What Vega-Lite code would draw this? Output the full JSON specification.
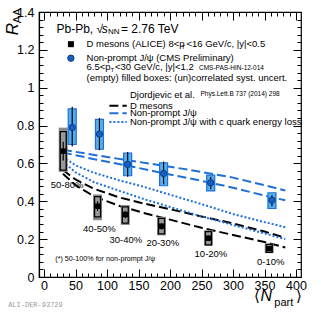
{
  "$schema": "https://vega.github.io/schema/vega-lite/v6.json",
  "width": 262,
  "height": 265,
  "autosize": {"type": "none"},
  "padding": {"left": 39, "top": 12, "right": 20, "bottom": 35},
  "background": "white",
  "config": {
    "view": {"stroke": "black", "strokeWidth": 1.2},
    "axis": {"grid": false, "domainColor": "black", "domainWidth": 1.2, "tickColor": "black", "tickWidth": 1, "labelFont": "Liberation Sans", "labelFontSize": 12.5, "labelColor": "black", "labelFlush": false, "labelOverlap": false, "title": null, "tickCount": 100},
    "text": {"font": "Liberation Sans", "color": "black"}
  },
  "datasets": {
    "dmesTh": [
      {"s": "upper", "N": 30, "v": 0.565}, {"s": "upper", "N": 50, "v": 0.515}, {"s": "upper", "N": 80, "v": 0.465}, {"s": "upper", "N": 120, "v": 0.42}, {"s": "upper", "N": 160, "v": 0.387}, {"s": "upper", "N": 200, "v": 0.358}, {"s": "upper", "N": 250, "v": 0.32}, {"s": "upper", "N": 300, "v": 0.283}, {"s": "upper", "N": 350, "v": 0.24}, {"s": "upper", "N": 383, "v": 0.207},
      {"s": "lower", "N": 30, "v": 0.545}, {"s": "lower", "N": 50, "v": 0.485}, {"s": "lower", "N": 80, "v": 0.425}, {"s": "lower", "N": 120, "v": 0.375}, {"s": "lower", "N": 160, "v": 0.337}, {"s": "lower", "N": 200, "v": 0.303}, {"s": "lower", "N": 250, "v": 0.26}, {"s": "lower", "N": 300, "v": 0.222}, {"s": "lower", "N": 350, "v": 0.185}, {"s": "lower", "N": 383, "v": 0.156},
      {"s": "leg", "N": 103.8, "v": 0.905}, {"s": "leg", "N": 131.3, "v": 0.905}
    ],
    "jpsiTh": [
      {"s": "upper", "N": 30, "v": 0.672}, {"s": "upper", "N": 80, "v": 0.645}, {"s": "upper", "N": 130, "v": 0.618}, {"s": "upper", "N": 190, "v": 0.588}, {"s": "upper", "N": 250, "v": 0.555}, {"s": "upper", "N": 300, "v": 0.525}, {"s": "upper", "N": 350, "v": 0.485}, {"s": "upper", "N": 383, "v": 0.457},
      {"s": "lower", "N": 30, "v": 0.658}, {"s": "lower", "N": 80, "v": 0.622}, {"s": "lower", "N": 130, "v": 0.59}, {"s": "lower", "N": 190, "v": 0.548}, {"s": "lower", "N": 250, "v": 0.508}, {"s": "lower", "N": 300, "v": 0.472}, {"s": "lower", "N": 350, "v": 0.43}, {"s": "lower", "N": 383, "v": 0.405},
      {"s": "leg", "N": 103.8, "v": 0.865}, {"s": "leg", "N": 131.3, "v": 0.865}
    ],
    "elossTh": [
      {"s": "upper", "N": 30, "v": 0.635}, {"s": "upper", "N": 50, "v": 0.59}, {"s": "upper", "N": 80, "v": 0.55}, {"s": "upper", "N": 120, "v": 0.51}, {"s": "upper", "N": 160, "v": 0.475}, {"s": "upper", "N": 200, "v": 0.435}, {"s": "upper", "N": 250, "v": 0.385}, {"s": "upper", "N": 300, "v": 0.333}, {"s": "upper", "N": 350, "v": 0.29}, {"s": "upper", "N": 383, "v": 0.263},
      {"s": "lower", "N": 30, "v": 0.61}, {"s": "lower", "N": 50, "v": 0.553}, {"s": "lower", "N": 80, "v": 0.5}, {"s": "lower", "N": 120, "v": 0.455}, {"s": "lower", "N": 160, "v": 0.41}, {"s": "lower", "N": 200, "v": 0.37}, {"s": "lower", "N": 250, "v": 0.32}, {"s": "lower", "N": 300, "v": 0.275}, {"s": "lower", "N": 350, "v": 0.23}, {"s": "lower", "N": 383, "v": 0.2},
      {"s": "leg", "N": 103.8, "v": 0.819}, {"s": "leg", "N": 131.3, "v": 0.819}
    ],
    "dmes": [
      {"N": 30.5, "v": 0.665, "s0": 0.615, "s1": 0.715, "u0": 0.565, "u1": 0.768, "c0": 0.555, "c1": 0.789},
      {"N": 85, "v": 0.374, "s0": 0.35, "s1": 0.4, "u0": 0.318, "u1": 0.425, "c0": 0.3, "c1": 0.436},
      {"N": 129, "v": 0.33, "s0": 0.31, "s1": 0.35, "u0": 0.285, "u1": 0.37, "c0": 0.275, "c1": 0.38},
      {"N": 186.5, "v": 0.268, "s0": 0.25, "s1": 0.285, "u0": 0.228, "u1": 0.31, "c0": 0.22, "c1": 0.318},
      {"N": 261, "v": 0.205, "s0": 0.19, "s1": 0.22, "u0": 0.17, "u1": 0.24, "c0": 0.165, "c1": 0.247},
      {"N": 357.5, "v": 0.15, "s0": 0.14, "s1": 0.16, "u0": 0.13, "u1": 0.172, "c0": 0.126, "c1": 0.177}
    ],
    "jpsi": [
      {"N": 44.8, "v": 0.79, "s0": 0.69, "s1": 0.9, "b0": 0.7, "b1": 0.888},
      {"N": 88, "v": 0.755, "s0": 0.67, "s1": 0.84, "b0": 0.675, "b1": 0.833},
      {"N": 132.8, "v": 0.595, "s0": 0.53, "s1": 0.66, "b0": 0.535, "b1": 0.655},
      {"N": 189.8, "v": 0.547, "s0": 0.49, "s1": 0.61, "b0": 0.482, "b1": 0.603},
      {"N": 264.6, "v": 0.498, "s0": 0.463, "s1": 0.53, "b0": 0.455, "b1": 0.538},
      {"N": 361.8, "v": 0.406, "s0": 0.374, "s1": 0.432, "b0": 0.362, "b1": 0.445}
    ],
    "legSq": [{"N": 42.7, "v": 1.23}],
    "legCi": [{"N": 42.7, "v": 1.156}],
    "title": [{"x": 19.8, "y": 1.311, "t": "Pb-Pb, √"}, {"x": 122.1, "y": 1.311, "t": "= 2.76 TeV"}],
    "titleIt": [{"x": 91.6, "y": 1.311, "t": "s"}],
    "titleSub": [{"x": 101.5, "y": 1.292, "t": "NN"}],
    "legTxt": [
      {"x": 67.6, "y": 1.23, "t": "D mesons (ALICE) 8<p"},
      {"x": 226, "y": 1.23, "t": "<16 GeV/c, |y|<0.5"},
      {"x": 67.6, "y": 1.156, "t": "Non-prompt J/ψ (CMS Preliminary)"},
      {"x": 67.6, "y": 1.108, "t": "6.5<p"},
      {"x": 112.5, "y": 1.108, "t": "<30 GeV/c, |y|<1.2"},
      {"x": 67.6, "y": 1.05, "t": "(empty) filled boxes: (un)correlated syst. uncert."},
      {"x": 136.4, "y": 0.962, "t": "Djordjevic et al."},
      {"x": 136.4, "y": 0.905, "t": "D mesons"},
      {"x": 136.4, "y": 0.865, "t": "Non-prompt J/ψ"},
      {"x": 136.4, "y": 0.819, "t": "Non-prompt J/ψ with c quark energy loss"}
    ],
    "legSub": [{"x": 218.3, "y": 1.213, "t": "T"}, {"x": 105.4, "y": 1.092, "t": "T"}],
    "refTxt": [{"x": 246, "y": 1.104, "t": "CMS-PAS-HIN-12-014"}, {"x": 248.4, "y": 0.965, "t": "Phys.Lett.B 737 (2014) 298"}],
    "cent": [
      {"x": 36.6, "y": 0.485, "t": "50-80%"},
      {"x": 88, "y": 0.256, "t": "40-50%"},
      {"x": 130, "y": 0.198, "t": "30-40%"},
      {"x": 188.5, "y": 0.177, "t": "20-30%"},
      {"x": 265, "y": 0.12, "t": "10-20%"},
      {"x": 360, "y": 0.08, "t": "0-10%"}
    ],
    "foot": [{"x": 17.9, "y": 0.097, "t": "(*) 50-100% for non-prompt J/ψ"}],
    "axR": [{"x": -48.9, "y": 1.31, "t": "R"}],
    "axAA": [{"x": -41.2, "y": 1.38, "t": "AA"}],
    "axBr": [{"x": 338.5, "y": -0.102, "t": "⟨"}, {"x": 404, "y": -0.102, "t": "⟩"}],
    "axN": [{"x": 343.5, "y": -0.102, "t": "N"}],
    "axPart": [{"x": 365.5, "y": -0.139, "t": "part"}],
    "ali": [{"x": -56.9, "y": -0.15, "t": "ALI-DER-93729"}]
  },
  "resolve": {"axis": {"x": "independent", "y": "independent"}},
  "layer": [
    {
      "layer": [
        {
          "data": {"name": "dmesTh"},
          "mark": {"type": "line", "color": "black", "strokeWidth": 2, "strokeDash": [9, 4]},
          "encoding": {
            "x": {"field": "N", "type": "quantitative", "scale": {"domain": [0, 400], "nice": false, "zero": false},
              "axis": {"title": null, "orient": "bottom", "values": [0, 50, 100, 150, 200, 250, 300, 350, 400], "tickCount": 100, "ticks": false, "labelPadding": 2, "labelOverlap": false, "labelFlush": false}},
            "y": {"field": "v", "type": "quantitative", "scale": {"domain": [0, 1.4], "nice": false, "zero": false},
              "axis": {"title": null, "orient": "left", "values": [0, 0.2, 0.4, 0.6, 0.8, 1, 1.2, 1.4], "tickCount": 100, "format": "~g", "ticks": false, "labelPadding": 5, "labelOverlap": false, "labelFlush": false}},
            "detail": {"field": "s"}
          }
        },
        {
          "data": {"name": "elossTh"},
          "mark": {"type": "line", "color": "#1f6fd6", "strokeWidth": 2, "strokeDash": [2, 2]},
          "encoding": {"x": {"field": "N", "type": "quantitative"}, "y": {"field": "v", "type": "quantitative"}, "detail": {"field": "s"}}
        },
        {
          "data": {"name": "jpsiTh"},
          "mark": {"type": "line", "color": "#1f6fd6", "strokeWidth": 2, "strokeDash": [9, 4]},
          "encoding": {"x": {"field": "N", "type": "quantitative"}, "y": {"field": "v", "type": "quantitative"}, "detail": {"field": "s"}}
        },
        {
          "data": {"name": "dmes"},
          "mark": {"type": "bar", "width": 9, "color": "#8a8a8a"},
          "encoding": {"x": {"field": "N", "type": "quantitative"}, "y": {"field": "c0", "type": "quantitative"}, "y2": {"field": "c1"}}
        },
        {
          "data": {"name": "dmes"},
          "mark": {"type": "bar", "width": 6, "fill": "#b0b0b0", "fillOpacity": 0.4, "stroke": "black", "strokeWidth": 1.3},
          "encoding": {"x": {"field": "N", "type": "quantitative"}, "y": {"field": "u0", "type": "quantitative"}, "y2": {"field": "u1"}}
        },
        {
          "data": {"name": "dmes"},
          "mark": {"type": "rule", "color": "black", "strokeWidth": 1.2},
          "encoding": {"x": {"field": "N", "type": "quantitative"}, "y": {"field": "s0", "type": "quantitative"}, "y2": {"field": "s1"}}
        },
        {
          "data": {"name": "dmes"},
          "mark": {"type": "square", "color": "black", "opacity": 1, "size": 30},
          "encoding": {"x": {"field": "N", "type": "quantitative"}, "y": {"field": "v", "type": "quantitative"}}
        },
        {
          "data": {"name": "jpsi"},
          "mark": {"type": "bar", "width": 8, "fill": "#52b0f0", "stroke": "#1f6fd6", "strokeWidth": 1.2},
          "encoding": {"x": {"field": "N", "type": "quantitative"}, "y": {"field": "b0", "type": "quantitative"}, "y2": {"field": "b1"}}
        },
        {
          "data": {"name": "jpsi"},
          "mark": {"type": "rule", "color": "black", "strokeWidth": 1.2},
          "encoding": {"x": {"field": "N", "type": "quantitative"}, "y": {"field": "s0", "type": "quantitative"}, "y2": {"field": "s1"}}
        },
        {
          "data": {"name": "jpsi"},
          "mark": {"type": "circle", "fill": "#1560c0", "stroke": "#0b3a85", "strokeWidth": 1, "opacity": 1, "size": 40},
          "encoding": {"x": {"field": "N", "type": "quantitative"}, "y": {"field": "v", "type": "quantitative"}}
        },
        {
          "data": {"name": "legSq"},
          "mark": {"type": "square", "color": "black", "opacity": 1, "size": 36},
          "encoding": {"x": {"field": "N", "type": "quantitative"}, "y": {"field": "v", "type": "quantitative"}}
        },
        {
          "data": {"name": "legCi"},
          "mark": {"type": "circle", "fill": "#1560c0", "stroke": "#0b3a85", "strokeWidth": 1, "opacity": 1, "size": 40},
          "encoding": {"x": {"field": "N", "type": "quantitative"}, "y": {"field": "v", "type": "quantitative"}}
        },
        {
          "data": {"name": "title"},
          "mark": {"type": "text", "fontSize": 12, "align": "left", "baseline": "middle"},
          "encoding": {"x": {"field": "x", "type": "quantitative"}, "y": {"field": "y", "type": "quantitative"}, "text": {"field": "t"}}
        },
        {
          "data": {"name": "titleIt"},
          "mark": {"type": "text", "fontSize": 12, "fontStyle": "italic", "align": "left", "baseline": "middle"},
          "encoding": {"x": {"field": "x", "type": "quantitative"}, "y": {"field": "y", "type": "quantitative"}, "text": {"field": "t"}}
        },
        {
          "data": {"name": "titleSub"},
          "mark": {"type": "text", "fontSize": 8, "align": "left", "baseline": "middle"},
          "encoding": {"x": {"field": "x", "type": "quantitative"}, "y": {"field": "y", "type": "quantitative"}, "text": {"field": "t"}}
        },
        {
          "data": {"name": "legTxt"},
          "mark": {"type": "text", "fontSize": 9.5, "align": "left", "baseline": "middle"},
          "encoding": {"x": {"field": "x", "type": "quantitative"}, "y": {"field": "y", "type": "quantitative"}, "text": {"field": "t"}}
        },
        {
          "data": {"name": "legSub"},
          "mark": {"type": "text", "fontSize": 6, "align": "left", "baseline": "middle"},
          "encoding": {"x": {"field": "x", "type": "quantitative"}, "y": {"field": "y", "type": "quantitative"}, "text": {"field": "t"}}
        },
        {
          "data": {"name": "refTxt"},
          "mark": {"type": "text", "fontSize": 6.5, "align": "left", "baseline": "middle"},
          "encoding": {"x": {"field": "x", "type": "quantitative"}, "y": {"field": "y", "type": "quantitative"}, "text": {"field": "t"}}
        },
        {
          "data": {"name": "cent"},
          "mark": {"type": "text", "fontSize": 9.5, "align": "center", "baseline": "middle"},
          "encoding": {"x": {"field": "x", "type": "quantitative"}, "y": {"field": "y", "type": "quantitative"}, "text": {"field": "t"}}
        },
        {
          "data": {"name": "foot"},
          "mark": {"type": "text", "fontSize": 7.2, "align": "left", "baseline": "middle"},
          "encoding": {"x": {"field": "x", "type": "quantitative"}, "y": {"field": "y", "type": "quantitative"}, "text": {"field": "t"}}
        },
        {
          "data": {"name": "axR"},
          "mark": {"type": "text", "fontSize": 17, "fontStyle": "italic", "angle": 270, "align": "center", "baseline": "middle"},
          "encoding": {"x": {"field": "x", "type": "quantitative"}, "y": {"field": "y", "type": "quantitative"}, "text": {"field": "t"}}
        },
        {
          "data": {"name": "axAA"},
          "mark": {"type": "text", "fontSize": 11, "angle": 270, "align": "center", "baseline": "middle"},
          "encoding": {"x": {"field": "x", "type": "quantitative"}, "y": {"field": "y", "type": "quantitative"}, "text": {"field": "t"}}
        },
        {
          "data": {"name": "axBr"},
          "mark": {"type": "text", "fontSize": 15, "align": "center", "baseline": "middle"},
          "encoding": {"x": {"field": "x", "type": "quantitative"}, "y": {"field": "y", "type": "quantitative"}, "text": {"field": "t"}}
        },
        {
          "data": {"name": "axN"},
          "mark": {"type": "text", "fontSize": 16, "fontStyle": "italic", "align": "left", "baseline": "middle"},
          "encoding": {"x": {"field": "x", "type": "quantitative"}, "y": {"field": "y", "type": "quantitative"}, "text": {"field": "t"}}
        },
        {
          "data": {"name": "axPart"},
          "mark": {"type": "text", "fontSize": 11, "align": "left", "baseline": "middle"},
          "encoding": {"x": {"field": "x", "type": "quantitative"}, "y": {"field": "y", "type": "quantitative"}, "text": {"field": "t"}}
        },
        {
          "data": {"name": "ali"},
          "mark": {"type": "text", "fontSize": 7, "font": "Liberation Mono", "color": "#9a9a9a", "align": "left", "baseline": "middle"},
          "encoding": {"x": {"field": "x", "type": "quantitative"}, "y": {"field": "y", "type": "quantitative"}, "text": {"field": "t"}}
        }
      ]
    },
    {
      "mark": {"type": "rule", "color": "#555555", "strokeWidth": 1, "strokeDash": [2, 2]},
      "encoding": {
        "x": {"datum": 0, "type": "quantitative", "scale": {"domain": [0, 400], "nice": false, "zero": false},
          "axis": {"title": null, "orient": "top", "labels": false, "domain": false, "values": [0, 50, 100, 150, 200, 250, 300, 350, 400], "tickCount": 100, "tickSize": -8}},
        "x2": {"datum": 400},
        "y": {"datum": 1, "type": "quantitative", "scale": {"domain": [0, 1.4], "nice": false, "zero": false},
          "axis": {"title": null, "orient": "right", "labels": false, "domain": false, "values": [0, 0.2, 0.4, 0.6, 0.8, 1, 1.2, 1.4], "tickCount": 100, "tickSize": -8}}
      }
    },
    {
      "mark": {"type": "rule", "opacity": 0},
      "encoding": {
        "x": {"datum": 0, "type": "quantitative", "scale": {"domain": [0, 400], "nice": false, "zero": false},
          "axis": {"title": null, "orient": "bottom", "labels": false, "domain": false, "values": [0, 50, 100, 150, 200, 250, 300, 350, 400], "tickCount": 100, "tickSize": -8}},
        "x2": {"datum": 400},
        "y": {"datum": 1, "type": "quantitative", "scale": {"domain": [0, 1.4], "nice": false, "zero": false},
          "axis": {"title": null, "orient": "left", "labels": false, "domain": false, "values": [0, 0.2, 0.4, 0.6, 0.8, 1, 1.2, 1.4], "tickCount": 100, "tickSize": -8}}
      }
    },
    {
      "mark": {"type": "rule", "opacity": 0},
      "encoding": {
        "x": {"datum": 0, "type": "quantitative", "scale": {"domain": [0, 400], "nice": false, "zero": false},
          "axis": {"title": null, "orient": "bottom", "labels": false, "domain": false, "values": [10,20,30,40,60,70,80,90,110,120,130,140,160,170,180,190,210,220,230,240,260,270,280,290,310,320,330,340,360,370,380,390], "tickCount": 100, "tickSize": -4}},
        "x2": {"datum": 400},
        "y": {"datum": 1, "type": "quantitative", "scale": {"domain": [0, 1.4], "nice": false, "zero": false},
          "axis": {"title": null, "orient": "left", "labels": false, "domain": false, "values": [0.04,0.08,0.12,0.16,0.24,0.28,0.32,0.36,0.44,0.48,0.52,0.56,0.64,0.68,0.72,0.76,0.84,0.88,0.92,0.96,1.04,1.08,1.12,1.16,1.24,1.28,1.32,1.36], "tickCount": 100, "tickSize": -4}}
      }
    },
    {
      "mark": {"type": "rule", "opacity": 0},
      "encoding": {
        "x": {"datum": 0, "type": "quantitative", "scale": {"domain": [0, 400], "nice": false, "zero": false},
          "axis": {"title": null, "orient": "top", "labels": false, "domain": false, "values": [10,20,30,40,60,70,80,90,110,120,130,140,160,170,180,190,210,220,230,240,260,270,280,290,310,320,330,340,360,370,380,390], "tickCount": 100, "tickSize": -4}},
        "x2": {"datum": 400},
        "y": {"datum": 1, "type": "quantitative", "scale": {"domain": [0, 1.4], "nice": false, "zero": false},
          "axis": {"title": null, "orient": "right", "labels": false, "domain": false, "values": [0.04,0.08,0.12,0.16,0.24,0.28,0.32,0.36,0.44,0.48,0.52,0.56,0.64,0.68,0.72,0.76,0.84,0.88,0.92,0.96,1.04,1.08,1.12,1.16,1.24,1.28,1.32,1.36], "tickCount": 100, "tickSize": -4}}
      }
    }
  ]
}
